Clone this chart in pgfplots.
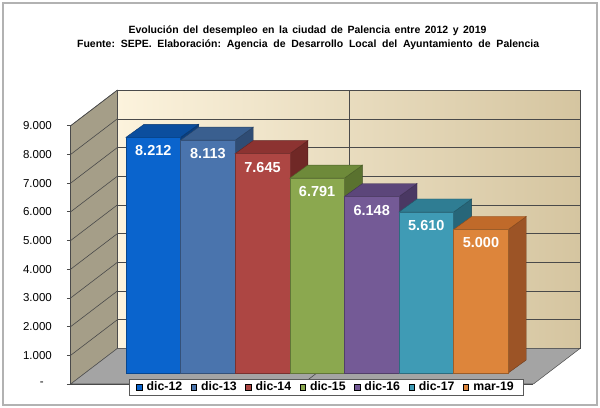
\documentclass[border=0pt]{standalone}
\usepackage{pgfplots}
\pgfplotsset{compat=1.18}
\usepackage{fontspec}
\setmainfont{Liberation Sans}
\frenchspacing

\definecolor{f0}{HTML}{0A64CD}\definecolor{t0}{HTML}{0B4E9E}\definecolor{s0}{HTML}{0A3F80}
\definecolor{f1}{HTML}{4A74AD}\definecolor{t1}{HTML}{3A5F8F}\definecolor{s1}{HTML}{2F4C74}
\definecolor{f2}{HTML}{AD4643}\definecolor{t2}{HTML}{8C3331}\definecolor{s2}{HTML}{702826}
\definecolor{f3}{HTML}{8BA84F}\definecolor{t3}{HTML}{6E8A3A}\definecolor{s3}{HTML}{5A722F}
\definecolor{f4}{HTML}{745A96}\definecolor{t4}{HTML}{5C467A}\definecolor{s4}{HTML}{4A3863}
\definecolor{f5}{HTML}{3F9BB5}\definecolor{t5}{HTML}{2F7D93}\definecolor{s5}{HTML}{276679}
\definecolor{f6}{HTML}{DD853B}\definecolor{t6}{HTML}{C06A2A}\definecolor{s6}{HTML}{9C5426}
\definecolor{leftwall}{HTML}{A59E88}
\definecolor{backL}{HTML}{FCF3DD}
\definecolor{backR}{HTML}{D5C5A0}
\definecolor{floorc}{HTML}{A4A4A4}
\definecolor{gridc}{HTML}{4A4A4A}

\tikzset{barlabel/.style={text=white, font=\fontsize{14.5}{16}\selectfont\bfseries, yshift=-13.5pt, inner sep=0pt},
  gridline/.style={draw=gridc, line width=0.6pt, fill=none}}

% #1 index, #2 value, #3 front, #4 top, #5 side, #6 label
\newcommand\tdbar[6]{%
  \pgfmathsetmacro\xa{#1-0.5}%
  \pgfmathsetmacro\xb{#1+0.5}%
  \pgfmathsetmacro\xc{#1+0.83}%
  \pgfmathsetmacro\xd{#1-0.17}%
  \pgfmathsetmacro\yt{#2+453}%
  \edef\tmp{%
    \noexpand\addplot[fill=#5, draw=#5!70!black, line width=0.4pt] coordinates {(\xb,0) (\xc,453) (\xc,\yt) (\xb,#2)} -- cycle;
    \noexpand\addplot[fill=#4, draw=#4!70!black, line width=0.4pt] coordinates {(\xa,#2) (\xb,#2) (\xc,\yt) (\xd,\yt)} -- cycle;
    \noexpand\addplot[fill=#3, draw=#3!70!black, line width=0.4pt] coordinates {(\xa,0) (\xb,0) (\xb,#2) (\xa,#2)} -- cycle;
    \noexpand\node[barlabel] at (axis cs:#1,#2) {#6};
  }\tmp
}

\begin{document}
\begin{tikzpicture}
\begin{axis}[
  scale only axis, width=600pt, height=408pt,
  xmin=-2.808, xmax=8.181, ymin=-1219.5, ymax=12996.5,
  hide axis, clip=false,
  legend columns=7,
  legend image code/.code={\fill[#1] (0pt,-2.75pt) rectangle (5.5pt,2.75pt);},
  legend style={at={(axis cs:3.163,-488)}, anchor=center, draw=gray!70!black, fill=white,
    font=\fontsize{12.3}{14}\selectfont\bfseries, inner xsep=7pt, inner ysep=0.5pt,
    /tikz/every odd column/.append style={column sep=2.5pt},
    /tikz/every even column/.append style={column sep=6.5pt}},
]
\addlegendimage{fill=f0}\addlegendentry{dic-12}
\addlegendimage{fill=f1}\addlegendentry{dic-13}
\addlegendimage{fill=f2}\addlegendentry{dic-14}
\addlegendimage{fill=f3}\addlegendentry{dic-15}
\addlegendimage{fill=f4}\addlegendentry{dic-16}
\addlegendimage{fill=f5}\addlegendentry{dic-17}
\addlegendimage{fill=f6}\addlegendentry{mar-19}

\path (rel axis cs:0,0) rectangle (rel axis cs:1,1);

% walls and floor
\addplot[fill=leftwall, draw=gray!60!black, line width=0.5pt] coordinates {(-1.513,-383) (-0.660,854) (-0.660,9854) (-1.513,8617)} -- cycle;
\addplot[left color=backL, right color=backR, draw=gray!60!black, line width=0.5pt] coordinates {(-0.660,854) (7.815,854) (7.815,9854) (-0.660,9854)} -- cycle;
\addplot[fill=floorc, draw=gray!60!black, line width=0.5pt] coordinates {(-1.513,-383) (6.962,-383) (7.815,854) (-0.660,854)} -- cycle;

% grid on left wall
\addplot[gridline] coordinates {(-1.513,617) (-0.660,1854)};
\addplot[gridline] coordinates {(-1.513,1617) (-0.660,2854)};
\addplot[gridline] coordinates {(-1.513,2617) (-0.660,3854)};
\addplot[gridline] coordinates {(-1.513,3617) (-0.660,4854)};
\addplot[gridline] coordinates {(-1.513,4617) (-0.660,5854)};
\addplot[gridline] coordinates {(-1.513,5617) (-0.660,6854)};
\addplot[gridline] coordinates {(-1.513,6617) (-0.660,7854)};
\addplot[gridline] coordinates {(-1.513,7617) (-0.660,8854)};
\addplot[gridline] coordinates {(-1.513,8617) (-0.660,9854)};
% grid on back wall
\addplot[gridline] coordinates {(-0.660,1854) (7.815,1854)};
\addplot[gridline] coordinates {(-0.660,2854) (7.815,2854)};
\addplot[gridline] coordinates {(-0.660,3854) (7.815,3854)};
\addplot[gridline] coordinates {(-0.660,4854) (7.815,4854)};
\addplot[gridline] coordinates {(-0.660,5854) (7.815,5854)};
\addplot[gridline] coordinates {(-0.660,6854) (7.815,6854)};
\addplot[gridline] coordinates {(-0.660,7854) (7.815,7854)};
\addplot[gridline] coordinates {(-0.660,8854) (7.815,8854)};
\addplot[gridline] coordinates {(-0.660,9854) (7.815,9854)};
\addplot[gridline] coordinates {(3.584,854) (3.584,9854)};
\addplot[gridline] coordinates {(2.731,-383) (3.584,854)};
% front edge and ticks
\addplot[gridline] coordinates {(-1.513,-383) (-1.513,8617)};
\addplot[gridline] coordinates {(-1.513,-383) (6.962,-383)};
\addplot[gridline] coordinates {(-1.581,-383) (-1.513,-383)};
\addplot[gridline] coordinates {(-1.581,617) (-1.513,617)};
\addplot[gridline] coordinates {(-1.581,1617) (-1.513,1617)};
\addplot[gridline] coordinates {(-1.581,2617) (-1.513,2617)};
\addplot[gridline] coordinates {(-1.581,3617) (-1.513,3617)};
\addplot[gridline] coordinates {(-1.581,4617) (-1.513,4617)};
\addplot[gridline] coordinates {(-1.581,5617) (-1.513,5617)};
\addplot[gridline] coordinates {(-1.581,6617) (-1.513,6617)};
\addplot[gridline] coordinates {(-1.581,7617) (-1.513,7617)};
\addplot[gridline] coordinates {(-1.581,8617) (-1.513,8617)};

% tick labels
\begin{scope}[every node/.style={anchor=east, inner sep=0pt, font=\fontsize{11.5}{13}\selectfont}]
\node at (axis cs:-2.002,-383) {-};
\node at (axis cs:-1.855,617) {1.000};
\node at (axis cs:-1.855,1617) {2.000};
\node at (axis cs:-1.855,2617) {3.000};
\node at (axis cs:-1.855,3617) {4.000};
\node at (axis cs:-1.855,4617) {5.000};
\node at (axis cs:-1.855,5617) {6.000};
\node at (axis cs:-1.855,6617) {7.000};
\node at (axis cs:-1.855,7617) {8.000};
\node at (axis cs:-1.855,8617) {9.000};
\end{scope}

% bars
\tdbar{0}{8212}{f0}{t0}{s0}{8.212}
\tdbar{1}{8113}{f1}{t1}{s1}{8.113}
\tdbar{2}{7645}{f2}{t2}{s2}{7.645}
\tdbar{3}{6791}{f3}{t3}{s3}{6.791}
\tdbar{4}{6148}{f4}{t4}{s4}{6.148}
\tdbar{5}{5610}{f5}{t5}{s5}{5.610}
\tdbar{6}{5000}{f6}{t6}{s6}{5.000}

% title
\node[font=\fontsize{10.5}{12}\selectfont\bfseries, inner sep=0pt] at (rel axis cs:0.5125,0.9240)
  {\makebox[358pt][s]{Evolución del desempleo en la ciudad de Palencia entre 2012 y 2019}};
\node[font=\fontsize{10.5}{12}\selectfont\bfseries, inner sep=0pt] at (rel axis cs:0.5135,0.8900)
  {\makebox[462pt][s]{Fuente: SEPE. Elaboración: Agencia de Desarrollo Local del Ayuntamiento de Palencia}};

% outer border
\draw[gray!60, line width=1.3pt] (rel axis cs:0.005,0.0074) rectangle (rel axis cs:0.995,0.9926);
\end{axis}
\end{tikzpicture}
\end{document}
